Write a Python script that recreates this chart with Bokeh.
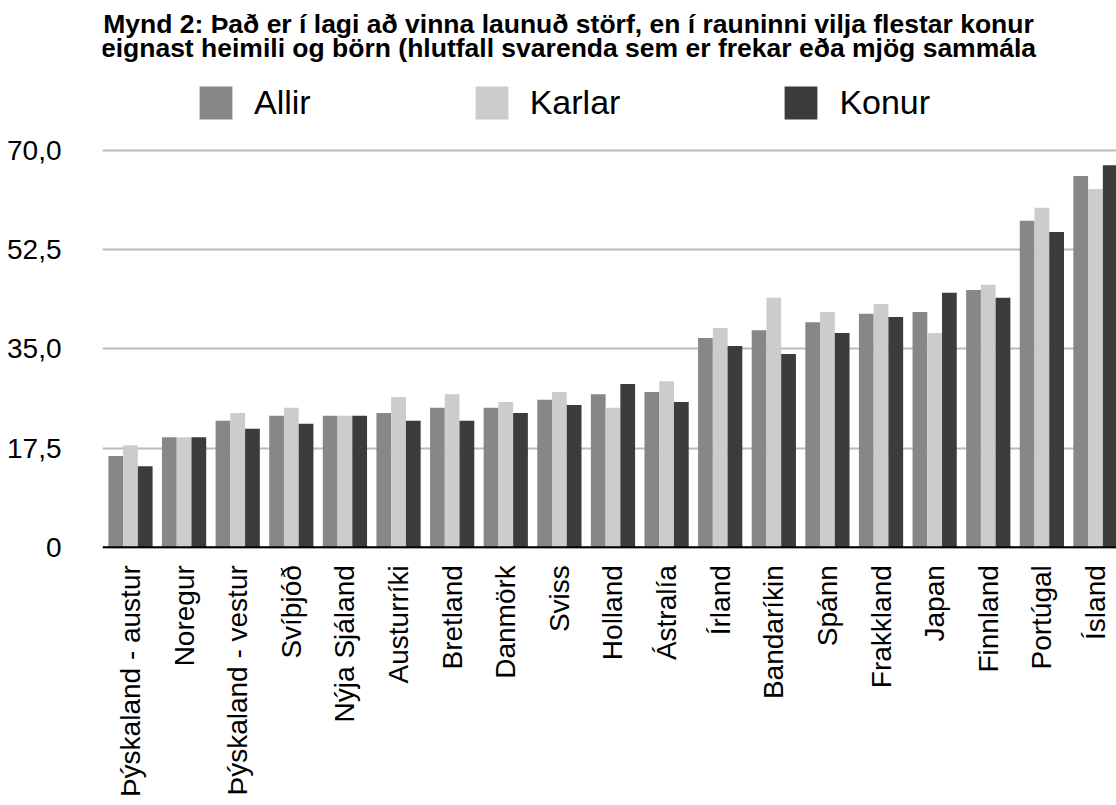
import math
import numpy as np
from bokeh.plotting import figure
from bokeh.models import (Range1d, FixedTicker, Legend, LegendItem, Label,
                          ColumnDataSource, Span)
from bokeh.core.properties import value
from bokeh.embed import file_html
from bokeh.resources import INLINE

# ---------------- data ----------------
countries = ["Þýskaland - austur", "Noregur", "Þýskaland - vestur", "Svíþjóð",
             "Nýja Sjáland", "Austurríki", "Bretland", "Danmörk", "Sviss",
             "Holland", "Ástralía", "Írland", "Bandaríkin", "Spánn",
             "Frakkland", "Japan", "Finnland", "Portúgal", "Ísland"]
allir = [16.1, 19.4, 22.3, 23.2, 23.2, 23.7, 24.6, 24.6, 26.0, 27.0, 27.4,
         36.9, 38.3, 39.7, 41.2, 41.5, 45.4, 57.6, 65.5]
karlar = [18.0, 19.4, 23.7, 24.6, 23.2, 26.5, 27.0, 25.6, 27.4, 24.6, 29.3,
          38.7, 44.0, 41.5, 42.9, 37.8, 46.3, 59.9, 63.2]
konur = [14.3, 19.4, 20.9, 21.8, 23.2, 22.3, 22.3, 23.7, 25.1, 28.8, 25.6,
         35.5, 34.1, 37.8, 40.6, 44.9, 44.0, 55.6, 67.4]
series = ["Allir", "Karlar", "Konur"]
y_ticks = [0, 17.5, 35.0, 52.5, 70.0]
y_tick_labels = ["0", "17,5", "35,0", "52,5", "70,0"]
title_lines = ["Mynd 2: Það er í lagi að vinna launuð störf, en í rauninni vilja flestar konur",
               "eignast heimili og börn (hlutfall svarenda sem er frekar eða mjög sammála"]

# ---------------- style / layout ----------------
colors = ["#868786", "#CBCCCB", "#3B3C3B"]
FONT = "Liberation Sans"
W, H = 1116, 805
LEFT = 102
ZERO_PX = 546.7        # figure y of value 0
TOP70_PX = 150.0       # figure y of value 70
PX_PER_UNIT = (ZERO_PX - TOP70_PX) / 70
X0, X1 = -0.522, 18.392
Y1 = 70 + TOP70_PX / PX_PER_UNIT
Y0 = -(H - ZERO_PX) / PX_PER_UNIT
frame_w = W - LEFT
frame_h = H


def data_x(fig_px):
    return X0 + (fig_px - LEFT) * (X1 - X0) / frame_w


def data_y(fig_px):
    return Y1 - fig_px * (Y1 - Y0) / frame_h


p = figure(width=W, height=H, output_backend="svg", toolbar_location=None,
           x_range=Range1d(X0, X1), y_range=Range1d(Y0, Y1),
           x_axis_location=None,
           min_border_left=LEFT, min_border_right=0, min_border_top=0,
           min_border_bottom=0)
p.outline_line_color = None
p.background_fill_color = "white"
p.border_fill_color = "white"

# y axis
ya = p.yaxis[0]
ya.ticker = FixedTicker(ticks=y_ticks)
ya.major_label_overrides = {t: l for t, l in zip(y_ticks, y_tick_labels)}
ya.major_label_text_font = FONT
ya.major_label_text_font_size = "28px"
ya.major_label_text_color = "black"
ya.major_label_standoff = 35
ya.major_tick_line_color = None
ya.minor_tick_line_color = None
ya.axis_line_color = None

p.xgrid.visible = False
p.ygrid.ticker = FixedTicker(ticks=y_ticks)
p.ygrid.grid_line_color = "#BBBBBB"
p.ygrid.grid_line_width = 2

# bars
xs = np.arange(len(countries))
bw = 0.275
offsets = [-bw, 0.0, bw]
items = []
for name, vals, col, off in zip(series, [allir, karlar, konur], colors, offsets):
    src = ColumnDataSource(dict(x=xs + off, top=vals))
    r = p.vbar(x="x", top="top", bottom=0, width=bw, source=src,
               fill_color=col, line_color=None)
    items.append(LegendItem(label=name, renderers=[r]))

# baseline
p.add_layout(Span(location=0, dimension="width", line_color="black",
                  line_width=2))

# category labels (rotated, reading upward), placed on the x scale
lab_src = ColumnDataSource(dict(x=xs, y=[data_y(ZERO_PX + 18)] * len(xs),
                                text=countries))
p.text(x="x", y="y", text="text", source=lab_src, angle=math.pi / 2,
       text_align="right", text_baseline="middle",
       text_font=value(FONT), text_font_size="28px", text_color="black")

legend = Legend(items=items, orientation="horizontal",
                location=(93, frame_h - 123),
                glyph_width=41, glyph_height=41, label_standoff=18,
                spacing=160, padding=0, margin=0,
                border_line_color=None, background_fill_alpha=0,
                label_text_font=FONT, label_text_font_size="34px",
                label_text_color="black")
p.add_layout(legend, "center")

# title (two centred lines)
for line, base in zip(title_lines, [23, 47]):
    p.add_layout(Label(x=data_x(568), y=data_y(base), text=line,
                       text_align="center", text_baseline="alphabetic",
                       text_font=FONT, text_font_style="bold",
                       text_font_size="26.5px", text_color="black"))

open("out.html", "w").write(file_html(p, INLINE, "Mynd 2"))
